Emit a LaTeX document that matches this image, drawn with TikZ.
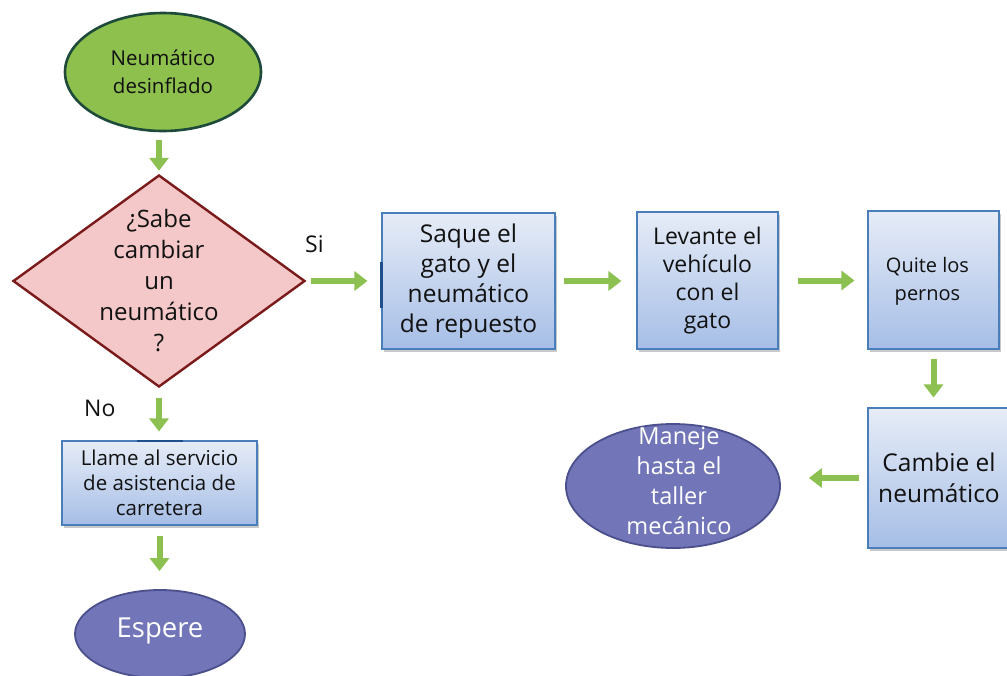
\documentclass[tikz,border=0pt]{standalone}
\usepackage{fontspec}
\setmainfont{Open Sans}
\usetikzlibrary{arrows.meta,shapes.geometric,shadows}
\definecolor{grfill}{HTML}{8DC04D}
\definecolor{grline}{HTML}{1E4A3A}
\definecolor{arrgreen}{HTML}{8CC152}
\definecolor{pinkfill}{HTML}{F4C8C8}
\definecolor{redline}{HTML}{7A1A1A}
\definecolor{boxtop}{HTML}{E6ECF7}
\definecolor{boxbot}{HTML}{A6BEE6}
\definecolor{boxline}{HTML}{4A7EBB}
\definecolor{purfill}{HTML}{7276B8}
\definecolor{purline}{HTML}{4B4F8C}
\definecolor{txt}{HTML}{111111}
\definecolor{darkblue}{HTML}{1F4E8C}
\tikzset{
  startnode/.style={ellipse, draw=grline, line width=2.6pt, fill=grfill, inner sep=0pt, text=txt, align=center},
  stepbox/.style={rectangle, draw=boxline, line width=1.1pt, top color=boxtop, bottom color=boxbot, inner sep=0pt, text=txt, align=center,
    drop shadow={shadow xshift=2pt, shadow yshift=-2.5pt, opacity=0.35, fill=black!60}},
  endnode/.style={ellipse, draw=purline, line width=1.8pt, fill=purfill, inner sep=0pt},
  endtext/.style={text=white, align=center, inner sep=0pt},
  decision/.style={diamond, draw=redline, line width=2.4pt, fill=pinkfill, inner sep=0pt},
  arr/.style={draw=arrgreen, line width=6pt, -{Triangle[length=13pt,width=19pt]}},
  lbl/.style={text=txt, inner sep=0pt, font=\fontsize{23}{28}\selectfont}
}
\begin{document}
\begin{tikzpicture}[x=1pt,y=-1pt]
\useasboundingbox (0,0) rectangle (1007,675);
\fill[white] (0,0) rectangle (1007,675);

\node[startnode, minimum width=196pt, minimum height=118pt, font=\fontsize{20.5}{28}\selectfont] (start) at (163,72) {Neumático\\desinflado};

\node[decision, minimum width=292pt, minimum height=212pt] (dia) at (159,281) {};
\node[text=txt, align=center, inner sep=0pt, font=\fontsize{24}{31}\selectfont] (diatext) at (159,281) {¿Sabe\\cambiar\\un\\neumático\\?};

\node[stepbox, minimum width=173pt, minimum height=136pt, font=\fontsize{24.5}{30}\selectfont] (box1) at (468.5,281) {Saque el\\gato y el\\neumático\\de repuesto};
\node[stepbox, minimum width=141pt, minimum height=137pt, font=\fontsize{23}{28}\selectfont] (box2) at (707.5,280.5) {Levante el\\vehículo\\con el\\gato};
\node[stepbox, minimum width=131pt, minimum height=138pt] (box3) at (933.5,280) {};
\node[text=txt, align=center, inner sep=0pt, font=\fontsize{20}{28}\selectfont] (box3text) at (927.5,281) {Quite los\\pernos};
\node[stepbox, minimum width=142pt, minimum height=140pt, font=\fontsize{24.5}{31}\selectfont] (box4) at (939,478) {Cambie el\\neumático};

\node[endnode, minimum width=214pt, minimum height=124pt] (drive) at (673,486) {};
\node[endtext, font=\fontsize{23.5}{30}\selectfont] (drivetext) at (679,481) {Maneje\\hasta el\\taller\\mecánico};

\node[stepbox, minimum width=195pt, minimum height=84pt, font=\fontsize{20.5}{25}\selectfont] (call) at (159.5,483) {Llame al servicio\\de asistencia de\\carretera};
\node[endnode, minimum width=170pt, minimum height=88pt] (wait) at (160,634) {};
\node[endtext, font=\fontsize{27.5}{32}\selectfont] (waittext) at (160,631) {Espere};

% small dark marks
\draw[darkblue, line width=2.5pt] (box1.west |- 0,262) -- (box1.west |- 0,308);
\draw[darkblue, line width=2pt] (137,441) -- (183,441);

% labels
\node[lbl, anchor=west] (si) at (305,244) {Si};
\node[lbl, anchor=west] (no) at (84,408) {No};

% connectors
\draw[arr, shorten <=8pt, shorten >=3pt] (start.south -| dia.north) -- (dia.north);
\draw[arr, shorten <=5pt, shorten >=14pt] (dia.east) -- (box1.west |- dia.east);
\draw[arr, shorten <=8pt, shorten >=15pt] (box1.east) -- (box2.west |- box1.east);
\draw[arr, shorten <=19pt, shorten >=13pt] (box2.east) -- (box3.west |- box2.east);
\draw[arr, shorten <=9pt, shorten >=10pt] (box3.south) -- (box3.south |- box4.north);
\draw[arr, shorten <=8pt, shorten >=28pt] (box4.west) -- (box4.west -| drive.east);
\draw[arr, shorten <=10pt, shorten >=9pt] (dia.south) -- (dia.south |- call.north);
\draw[arr, shorten <=10pt, shorten >=18pt] (call.south) -- (call.south |- wait.north);
\end{tikzpicture}
\end{document}
